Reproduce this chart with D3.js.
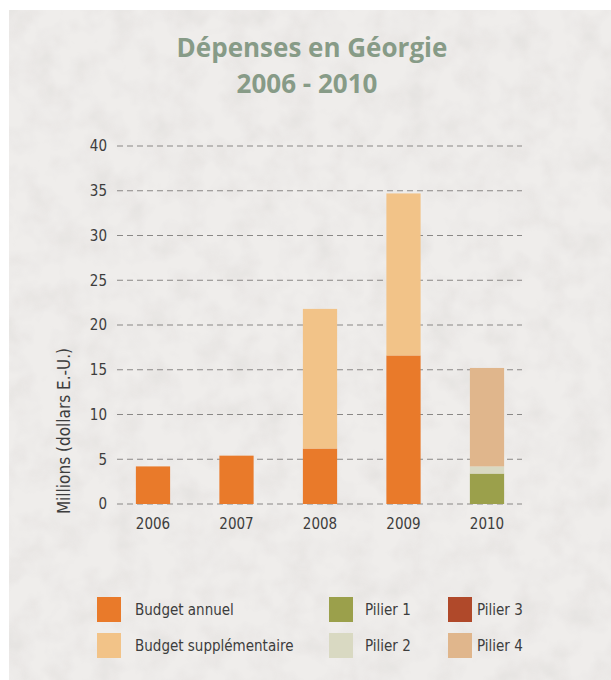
<!DOCTYPE html>
<html>
<head>
<meta charset="utf-8">
<script src="https://cdn.jsdelivr.net/npm/d3@7"></script>
<style>
  body { margin: 0; background: #fff; }
  svg text { font-family: "Liberation Sans Narrow", "DejaVu Sans Condensed", "Roboto", sans-serif; }
</style>
</head>
<body>
<svg width="611" height="680"></svg>
<script>
// Dépenses en Géorgie 2006 - 2010 (millions de dollars E.-U.)
const years = ['2006', '2007', '2008', '2009', '2010'];
const budgetAnnuel = [4.2, 5.4, 6.2, 16.6, 0];
const budgetSupp = [0, 0, 15.6, 18.1, 0];
const pilier1 = [0, 0, 0, 0, 3.4];
const pilier2 = [0, 0, 0, 0, 0.8];
const pilier3 = [0, 0, 0, 0, 0];
const pilier4 = [0, 0, 0, 0, 11.0];
const yTicks = [0, 5, 10, 15, 20, 25, 30, 35, 40];

const seriesNames = ['Budget annuel', 'Budget supplémentaire', 'Pilier 1', 'Pilier 2', 'Pilier 3', 'Pilier 4'];
const seriesValues = [budgetAnnuel, budgetSupp, pilier1, pilier2, pilier3, pilier4];
const colors = ['#e97a2a', '#f2c388', '#9ba04b', '#d9d9c2', '#b0492a', '#e0b68c'];

const table = years.map((y, i) => {
  const row = { year: y };
  seriesNames.forEach((s, j) => { row[s] = seriesValues[j][i]; });
  return row;
});

const svg = d3.select('svg');

// paper background
const defs = svg.append('defs');
const f = defs.append('filter').attr('id', 'paper')
  .attr('x', 0).attr('y', 0).attr('width', '100%').attr('height', '100%');
f.append('feTurbulence').attr('type', 'fractalNoise')
  .attr('baseFrequency', 0.035).attr('numOctaves', 3).attr('seed', 4).attr('result', 'n');
f.append('feColorMatrix').attr('in', 'n').attr('type', 'matrix')
  .attr('values', '0 0 0 0 0.55  0 0 0 0 0.53  0 0 0 0 0.51  0 0 0 -0.9 0.55').attr('result', 'c');
f.append('feComposite').attr('in', 'c').attr('in2', 'SourceGraphic').attr('operator', 'in');

svg.append('rect').attr('x', 9).attr('y', 10).attr('width', 602).attr('height', 670)
  .attr('fill', '#efedeb');
svg.append('rect').attr('x', 9).attr('y', 10).attr('width', 602).attr('height', 670)
  .attr('fill', '#efedeb').attr('filter', 'url(#paper)').attr('opacity', 0.45);

const x = d3.scaleBand()
  .domain(years)
  .range([111.25, 528.75])
  .paddingInner(0.59)
  .paddingOuter(0.295);

const y = d3.scaleLinear()
  .domain([0, 40])
  .range([504, 146]);

// grid lines
svg.append('g')
  .selectAll('line')
  .data(yTicks)
  .enter()
  .append('line')
  .attr('x1', 117)
  .attr('x2', 522)
  .attr('y1', (d) => y(d))
  .attr('y2', (d) => y(d))
  .attr('stroke', '#8a8886')
  .attr('stroke-width', 1.2)
  .attr('stroke-dasharray', '6,4');

// y axis labels
const yAxis = svg.append('g')
  .attr('transform', 'translate(113,0)')
  .call(d3.axisLeft(y).tickValues(yTicks).tickSize(0).tickPadding(6));
yAxis.select('.domain').remove();
yAxis.selectAll('text')
  .attr('font-size', 15)
  .attr('fill', '#3d3d3d')
  .style('font-family', '"Liberation Sans Narrow", "DejaVu Sans Condensed", sans-serif');

// stacked bars
const stack = d3.stack().keys(seriesNames)(table);

svg.append('g')
  .selectAll('g')
  .data(stack)
  .enter()
  .append('g')
  .attr('fill', (d, i) => colors[i])
  .selectAll('rect')
  .data((d) => d)
  .enter()
  .append('rect')
  .attr('x', (d) => x(d.data.year))
  .attr('y', (d) => y(d[1]))
  .attr('width', x.bandwidth())
  .attr('height', (d) => y(d[0]) - y(d[1]));

// x axis labels
const xAxis = svg.append('g')
  .attr('transform', 'translate(0,512)')
  .call(d3.axisBottom(x).tickSize(0).tickPadding(6));
xAxis.select('.domain').remove();
xAxis.selectAll('text')
  .attr('font-size', 15)
  .attr('fill', '#3d3d3d')
  .style('font-family', '"Liberation Sans Narrow", "DejaVu Sans Condensed", sans-serif');

// y axis title
svg.append('text')
  .attr('transform', 'translate(70, 431) rotate(-90)')
  .attr('text-anchor', 'middle')
  .attr('font-size', 17)
  .attr('fill', '#3d3d3d')
  .text('Millions (dollars E.-U.)');

// title
svg.append('text')
  .attr('x', 312)
  .attr('y', 57)
  .attr('text-anchor', 'middle')
  .attr('font-size', 26)
  .attr('font-weight', 'bold')
  .attr('fill', '#879b87')
  .style('font-family', '"Open Sans", "Noto Sans", sans-serif')
  .text('Dépenses en Géorgie');

svg.append('text')
  .attr('x', 307)
  .attr('y', 93)
  .attr('text-anchor', 'middle')
  .attr('font-size', 26)
  .attr('font-weight', 'bold')
  .attr('fill', '#879b87')
  .style('font-family', '"Open Sans", "Noto Sans", sans-serif')
  .text('2006 - 2010');

// legend
const legendPos = [
  [97, 597], [97, 633], [329, 597], [329, 633], [448, 597], [448, 633]
];
const legend = svg.append('g')
  .selectAll('g')
  .data(seriesNames)
  .enter()
  .append('g')
  .attr('transform', (d, i) => `translate(${legendPos[i][0]}, ${legendPos[i][1]})`);

legend.append('rect')
  .attr('width', 24)
  .attr('height', 25)
  .attr('fill', (d, i) => colors[i]);

legend.append('text')
  .attr('x', (d, i) => i < 2 ? 38 : (i < 4 ? 36 : 29))
  .attr('y', 18)
  .attr('font-size', 15)
  .attr('fill', '#3d3d3d')
  .text((d) => d);
</script>
</body>
</html>
